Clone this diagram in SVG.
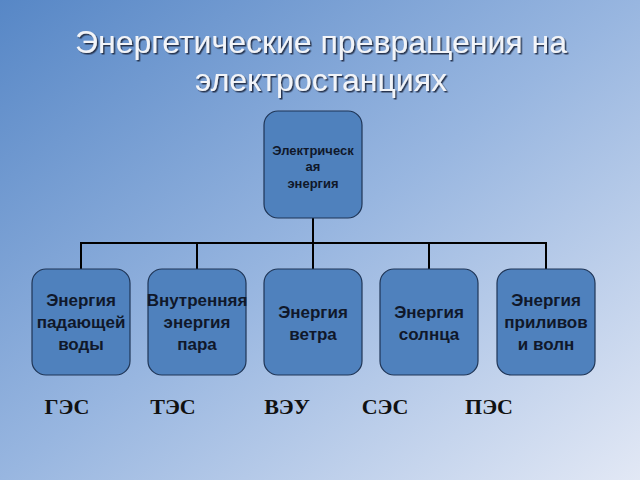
<svg xmlns="http://www.w3.org/2000/svg" width="640" height="480" viewBox="0 0 640 480">
<defs>
<linearGradient id="bg" x1="0" y1="0" x2="1" y2="1">
<stop offset="0" stop-color="#5787c6"/>
<stop offset="0.5" stop-color="#98b6e0"/>
<stop offset="1" stop-color="#e2e8f5"/>
</linearGradient>
<filter id="sh" x="-5%" y="-20%" width="110%" height="140%">
<feDropShadow dx="1.5" dy="1.5" stdDeviation="0.6" flood-color="#1a2a40" flood-opacity="0.9"/>
</filter>
</defs>
<style>
.box{fill:#4f81bd;stroke:#1f3556;stroke-width:1.2}
.lbl{font-family:"Liberation Sans",Arial,sans-serif;font-weight:bold;font-size:17px;fill:#10182a;text-anchor:middle}
.sm{font-size:13px}
.st{font-family:"Liberation Serif","Times New Roman",serif;font-weight:bold;font-size:22px;fill:#111;text-anchor:middle}
.title{font-family:"Liberation Sans",Arial,sans-serif;font-size:32px;fill:#f2f4f8;text-anchor:middle}
.conn{stroke:#000;stroke-width:2;fill:none}
</style>
<rect width="640" height="480" fill="url(#bg)"/>
<g id="title" filter="url(#sh)">
<text class="title" x="321" y="53">Энергетические превращения на</text>
<text class="title" x="321" y="91">электростанциях</text>
</g>
<g id="connectors">
<path class="conn" d="M313,218 V243 M81,243 H546 M81,242 V269 M197,242 V269 M313,242 V269 M429,242 V269 M546,242 V269"/>
</g>
<g id="n0">
<rect class="box" x="264" y="111" width="98" height="107" rx="14"/>
<text class="lbl sm" x="313" y="155">Электрическ</text>
<text class="lbl sm" x="313" y="171">ая</text>
<text class="lbl sm" x="313" y="188">энергия</text>
</g>
<g id="n1">
<rect class="box" x="32" y="269" width="98" height="106" rx="14"/>
<text class="lbl" x="81" y="306">Энергия</text>
<text class="lbl" x="81" y="328">падающей</text>
<text class="lbl" x="81" y="350">воды</text>
</g>
<g id="n2">
<rect class="box" x="148" y="269" width="98" height="106" rx="14"/>
<text class="lbl" x="197" y="306">Внутренняя</text>
<text class="lbl" x="197" y="328">энергия</text>
<text class="lbl" x="197" y="350">пара</text>
</g>
<g id="n3">
<rect class="box" x="264" y="269" width="98" height="106" rx="14"/>
<text class="lbl" x="313" y="318">Энергия</text>
<text class="lbl" x="313" y="340">ветра</text>
</g>
<g id="n4">
<rect class="box" x="380" y="269" width="98" height="106" rx="14"/>
<text class="lbl" x="429" y="318">Энергия</text>
<text class="lbl" x="429" y="340">солнца</text>
</g>
<g id="n5">
<rect class="box" x="497" y="269" width="98" height="106" rx="14"/>
<text class="lbl" x="546" y="306">Энергия</text>
<text class="lbl" x="546" y="328">приливов</text>
<text class="lbl" x="546" y="350">и волн</text>
</g>
<g id="stations">
<text class="st" x="67" y="414">ГЭС</text>
<text class="st" x="173" y="414">ТЭС</text>
<text class="st" x="287" y="414">ВЭУ</text>
<text class="st" x="385" y="414">СЭС</text>
<text class="st" x="489" y="414">ПЭС</text>
</g>
</svg>
